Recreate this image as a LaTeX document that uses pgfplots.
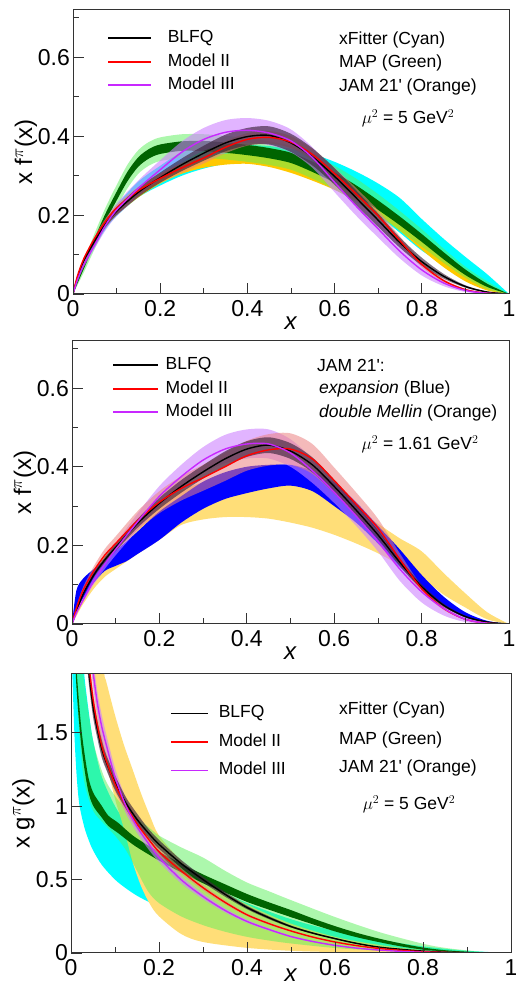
\documentclass[border=0pt]{standalone}
\usepackage{fontspec}
\setmainfont{Liberation Sans}
\usepackage{pgfplots}
\pgfplotsset{compat=1.18}
\usepgfplotslibrary{fillbetween}
\usepackage{pgfplotstable}

\definecolor{cBLFQband}{RGB}{60,35,60}
\definecolor{cIIband}{RGB}{235,130,130}
\definecolor{cIIIband}{RGB}{205,130,255}
\definecolor{cIII}{RGB}{200,40,255}
\definecolor{cCyan}{RGB}{0,255,255}
\definecolor{cDkGreen}{RGB}{0,100,0}
\definecolor{cLtGreen}{RGB}{90,240,90}
\definecolor{cOrange}{RGB}{255,200,0}
\definecolor{cYellow}{RGB}{255,222,120}
\definecolor{cBlue}{RGB}{0,0,255}

% ---------------- Panel 1 (valence, mu^2 = 5 GeV^2) ----------------
\pgfplotstableread{
x y lo hi
0 0 0 0
0.01 0.04 0.038 0.042
0.025 0.085 0.081 0.089
0.05 0.135 0.129 0.141
0.075 0.178 0.17 0.186
0.1 0.21 0.2 0.22
0.15 0.258 0.246 0.27
0.2 0.295 0.282 0.308
0.25 0.328 0.312 0.344
0.3 0.357 0.338 0.376
0.35 0.383 0.362 0.404
0.4 0.399 0.377 0.421
0.45 0.402 0.379 0.425
0.5 0.383 0.36 0.406
0.55 0.347 0.325 0.369
0.6 0.298 0.277 0.319
0.65 0.243 0.224 0.262
0.7 0.187 0.17 0.204
0.75 0.13 0.117 0.143
0.8 0.082 0.072 0.092
0.85 0.045 0.039 0.051
0.9 0.019 0.016 0.022
0.95 0.005 0.004 0.006
1 0 0 0
}\pABLFQ
\pgfplotstableread{
x y lo hi
0 0 0 0
0.01 0.045 0.043 0.047
0.025 0.09 0.087 0.093
0.05 0.142 0.137 0.147
0.075 0.185 0.178 0.192
0.1 0.218 0.21 0.226
0.15 0.262 0.252 0.272
0.2 0.293 0.282 0.304
0.25 0.32 0.307 0.333
0.3 0.345 0.331 0.359
0.35 0.372 0.357 0.387
0.4 0.392 0.376 0.408
0.45 0.397 0.381 0.413
0.5 0.385 0.37 0.4
0.55 0.353 0.339 0.367
0.6 0.305 0.29 0.32
0.65 0.253 0.238 0.268
0.7 0.198 0.184 0.212
0.75 0.135 0.124 0.146
0.8 0.075 0.068 0.082
0.85 0.034 0.03 0.038
0.9 0.011 0.009 0.013
0.95 0.002 0.0015 0.0025
1 0 0 0
}\pAII
\pgfplotstableread{
x y lo hi
0 0 0 0
0.01 0.035 0.032 0.038
0.025 0.075 0.069 0.081
0.05 0.125 0.116 0.134
0.075 0.175 0.162 0.188
0.1 0.213 0.197 0.229
0.15 0.268 0.248 0.288
0.2 0.315 0.291 0.339
0.25 0.36 0.333 0.387
0.3 0.392 0.363 0.421
0.35 0.41 0.379 0.441
0.4 0.415 0.384 0.446
0.45 0.408 0.377 0.439
0.5 0.388 0.359 0.417
0.55 0.345 0.319 0.371
0.6 0.283 0.258 0.308
0.65 0.222 0.198 0.246
0.7 0.165 0.143 0.187
0.75 0.108 0.09 0.126
0.8 0.061 0.047 0.075
0.85 0.028 0.02 0.036
0.9 0.009 0.005 0.013
0.95 0.002 0.001 0.003
1 0 0 0
}\pAIII
\pgfplotstableread{
x lo hi
0 0 0
0.01 0.03 0.04
0.025 0.07 0.085
0.05 0.12 0.14
0.075 0.165 0.185
0.1 0.198 0.225
0.15 0.245 0.285
0.2 0.275 0.325
0.25 0.3 0.36
0.3 0.318 0.372
0.35 0.33 0.378
0.4 0.335 0.378
0.45 0.335 0.375
0.5 0.328 0.368
0.55 0.31 0.355
0.6 0.28 0.335
0.65 0.243 0.31
0.7 0.2 0.28
0.75 0.155 0.243
0.8 0.11 0.19
0.85 0.075 0.14
0.9 0.045 0.094
0.95 0.015 0.05
1 0 0
}\pACyan
\pgfplotstableread{
x lo hi
0 0 0
0.01 0.04 0.046
0.025 0.08 0.09
0.05 0.13 0.145
0.075 0.17 0.188
0.1 0.2 0.222
0.15 0.245 0.27
0.2 0.28 0.305
0.25 0.305 0.33
0.3 0.32 0.347
0.35 0.328 0.356
0.4 0.33 0.357
0.45 0.322 0.35
0.5 0.307 0.337
0.55 0.287 0.315
0.6 0.264 0.292
0.65 0.236 0.264
0.7 0.202 0.232
0.75 0.16 0.192
0.8 0.112 0.142
0.85 0.068 0.095
0.9 0.032 0.052
0.95 0.009 0.018
1 0 0
}\pAOrange
\pgfplotstableread{
x lo hi
0 0 0
0.01 0.022 0.038
0.025 0.055 0.085
0.05 0.115 0.155
0.075 0.17 0.22
0.1 0.22 0.276
0.125 0.268 0.328
0.15 0.305 0.365
0.175 0.326 0.386
0.2 0.337 0.397
0.25 0.345 0.405
0.3 0.345 0.405
0.35 0.341 0.401
0.4 0.335 0.395
0.45 0.327 0.387
0.5 0.315 0.375
0.55 0.292 0.352
0.6 0.265 0.325
0.65 0.232 0.292
0.7 0.197 0.253
0.75 0.16 0.21
0.8 0.12 0.164
0.85 0.079 0.115
0.9 0.041 0.069
0.95 0.012 0.032
1 0 0
}\pALtGreen
\pgfplotstableread{
x lo hi
0 0 0
0.01 0.026 0.034
0.025 0.064 0.076
0.05 0.127 0.143
0.075 0.185 0.205
0.1 0.237 0.259
0.125 0.286 0.31
0.15 0.323 0.347
0.175 0.344 0.368
0.2 0.355 0.379
0.25 0.363 0.387
0.3 0.362 0.388
0.35 0.358 0.384
0.4 0.352 0.378
0.45 0.344 0.37
0.5 0.332 0.358
0.55 0.309 0.335
0.6 0.282 0.308
0.65 0.249 0.275
0.7 0.213 0.237
0.75 0.174 0.196
0.8 0.132 0.152
0.85 0.088 0.106
0.9 0.048 0.062
0.95 0.018 0.026
1 0 0
}\pADkGreen

% ---------------- Panel 2 (valence, mu^2 = 1.61 GeV^2) ----------------
\pgfplotstableread{
x y lo hi
0 0 0 0
0.01 0.032 0.03 0.034
0.025 0.075 0.072 0.078
0.05 0.125 0.119 0.131
0.075 0.163 0.156 0.17
0.1 0.195 0.186 0.204
0.15 0.256 0.245 0.267
0.2 0.307 0.293 0.321
0.25 0.35 0.334 0.366
0.3 0.387 0.37 0.404
0.35 0.42 0.401 0.439
0.4 0.445 0.425 0.465
0.45 0.455 0.435 0.475
0.5 0.44 0.42 0.46
0.55 0.405 0.386 0.424
0.6 0.35 0.333 0.367
0.65 0.29 0.276 0.304
0.7 0.227 0.215 0.239
0.75 0.157 0.148 0.166
0.8 0.095 0.089 0.101
0.85 0.048 0.044 0.052
0.9 0.019 0.017 0.021
0.95 0.005 0.004 0.006
1 0 0 0
}\pBBLFQ
\pgfplotstableread{
x y lo hi
0 0 0 0
0.01 0.04 0.036 0.044
0.025 0.085 0.077 0.093
0.05 0.135 0.123 0.147
0.075 0.175 0.159 0.191
0.1 0.205 0.187 0.223
0.15 0.263 0.239 0.287
0.2 0.31 0.282 0.338
0.25 0.345 0.314 0.376
0.3 0.372 0.339 0.405
0.35 0.4 0.364 0.436
0.4 0.428 0.39 0.466
0.45 0.443 0.403 0.483
0.5 0.445 0.405 0.485
0.55 0.42 0.382 0.458
0.6 0.365 0.332 0.398
0.65 0.305 0.278 0.335
0.7 0.244 0.222 0.268
0.75 0.165 0.15 0.18
0.8 0.09 0.082 0.098
0.85 0.04 0.036 0.044
0.9 0.012 0.011 0.013
0.95 0.002 0.002 0.002
1 0 0 0
}\pBII
\pgfplotstableread{
x y lo hi
0 0 0 0
0.01 0.028 0.026 0.03
0.025 0.06 0.055 0.065
0.05 0.11 0.101 0.119
0.075 0.152 0.14 0.164
0.1 0.19 0.175 0.205
0.15 0.26 0.239 0.281
0.2 0.325 0.299 0.351
0.25 0.375 0.345 0.405
0.3 0.417 0.384 0.45
0.35 0.445 0.409 0.481
0.4 0.458 0.421 0.495
0.45 0.458 0.421 0.495
0.5 0.435 0.4 0.47
0.55 0.39 0.359 0.421
0.6 0.335 0.308 0.362
0.65 0.275 0.25 0.3
0.7 0.21 0.185 0.235
0.75 0.14 0.11 0.16
0.8 0.082 0.055 0.095
0.85 0.04 0.022 0.05
0.9 0.012 0.005 0.018
0.95 0.002 0.001 0.004
1 0 0 0
}\pBIII
\pgfplotstableread{
x lo hi
0 0 0
0.01 0.035 0.085
0.025 0.065 0.115
0.05 0.105 0.14
0.075 0.135 0.162
0.1 0.148 0.187
0.125 0.16 0.21
0.15 0.178 0.235
0.2 0.214 0.286
0.25 0.258 0.325
0.3 0.293 0.362
0.35 0.318 0.386
0.4 0.333 0.4
0.45 0.345 0.405
0.5 0.352 0.405
0.55 0.338 0.39
0.6 0.3 0.36
0.65 0.258 0.31
0.7 0.205 0.25
0.75 0.145 0.19
0.8 0.088 0.125
0.85 0.045 0.07
0.9 0.016 0.03
0.95 0.003 0.008
1 0 0
}\pBBlue
\pgfplotstableread{
x lo hi
0 0 0
0.01 0.02 0.045
0.025 0.05 0.095
0.05 0.09 0.14
0.075 0.12 0.175
0.1 0.14 0.205
0.15 0.178 0.265
0.2 0.214 0.31
0.25 0.252 0.34
0.3 0.266 0.36
0.35 0.272 0.363
0.4 0.272 0.362
0.45 0.268 0.36
0.5 0.258 0.355
0.55 0.245 0.34
0.6 0.227 0.32
0.65 0.205 0.29
0.7 0.18 0.255
0.75 0.15 0.218
0.8 0.118 0.185
0.85 0.075 0.13
0.9 0.042 0.078
0.95 0.012 0.03
1 0 0
}\pBYellow

% ---------------- Panel 3 (gluon, mu^2 = 5 GeV^2) ----------------
\pgfplotstableread{
x y lo hi
0.03 2.35 2.26 2.44
0.035 2.12 2.04 2.2
0.04 1.93 1.85 2.01
0.05 1.68 1.61 1.75
0.06 1.52 1.46 1.58
0.07 1.39 1.33 1.45
0.08 1.3 1.25 1.35
0.1 1.16 1.11 1.21
0.125 1.02 0.98 1.06
0.15 0.91 0.87 0.95
0.175 0.82 0.79 0.85
0.2 0.74 0.71 0.77
0.25 0.61 0.585 0.635
0.3 0.5 0.48 0.52
0.35 0.4 0.384 0.416
0.4 0.31 0.298 0.322
0.45 0.24 0.23 0.25
0.5 0.18 0.173 0.187
0.55 0.135 0.13 0.14
0.6 0.098 0.094 0.102
0.65 0.065 0.062 0.068
0.7 0.04 0.038 0.042
0.75 0.025 0.024 0.026
0.8 0.013 0.012 0.014
0.85 0.006 0.006 0.006
0.9 0.002 0.002 0.002
0.95 0.0005 0.0005 0.0005
1 0 0 0
}\pCBLFQ
\pgfplotstableread{
x y lo hi
0.032 2.35 2.26 2.44
0.037 2.12 2.04 2.2
0.042 1.93 1.85 2.01
0.05 1.73 1.66 1.8
0.06 1.55 1.49 1.61
0.07 1.41 1.35 1.47
0.08 1.31 1.26 1.36
0.1 1.15 1.1 1.2
0.125 1.0 0.96 1.04
0.15 0.88 0.845 0.915
0.175 0.78 0.75 0.81
0.2 0.69 0.66 0.72
0.25 0.56 0.54 0.58
0.3 0.445 0.427 0.463
0.35 0.345 0.331 0.359
0.4 0.26 0.25 0.27
0.45 0.2 0.192 0.208
0.5 0.15 0.144 0.156
0.55 0.108 0.104 0.112
0.6 0.075 0.072 0.078
0.65 0.05 0.048 0.052
0.7 0.031 0.03 0.032
0.75 0.018 0.017 0.019
0.8 0.009 0.009 0.009
0.85 0.004 0.004 0.004
0.9 0.0015 0.0015 0.0015
0.95 0.0003 0.0003 0.0003
1 0 0 0
}\pCII
\pgfplotstableread{
x y lo hi
0.04 2.35 2.23 2.47
0.045 2.1 2.0 2.2
0.05 1.92 1.82 2.02
0.06 1.7 1.62 1.78
0.07 1.54 1.46 1.62
0.08 1.42 1.35 1.49
0.1 1.2 1.14 1.26
0.125 1.0 0.95 1.05
0.15 0.86 0.82 0.9
0.175 0.75 0.71 0.79
0.2 0.65 0.62 0.68
0.25 0.5 0.475 0.525
0.3 0.385 0.366 0.404
0.35 0.29 0.276 0.304
0.4 0.215 0.204 0.226
0.45 0.16 0.152 0.168
0.5 0.112 0.106 0.118
0.55 0.078 0.074 0.082
0.6 0.052 0.049 0.055
0.65 0.033 0.031 0.035
0.7 0.02 0.019 0.021
0.75 0.011 0.01 0.012
0.8 0.005 0.005 0.005
0.85 0.002 0.002 0.002
0.9 0.0007 0.0007 0.0007
1 0 0 0
}\pCIII
\pgfplotstableread{
x lo hi
0.003 1.9 2.4
0.008 1.47 2.4
0.013 1.2 2.4
0.019 1.01 2.3
0.03 0.86 1.9
0.04 0.77 1.65
0.05 0.7 1.45
0.07 0.6 1.2
0.1 0.5 1.0
0.125 0.44 0.89
0.15 0.39 0.8
0.175 0.35 0.72
0.2 0.31 0.66
0.25 0.25 0.56
0.3 0.2 0.48
0.4 0.13 0.34
0.5 0.085 0.23
0.6 0.05 0.15
0.7 0.025 0.09
0.8 0.01 0.045
0.9 0.003 0.015
1 0 0
}\pCCyan
\pgfplotstableread{
x lo hi
0.045 1.95 2.4
0.06 1.6 2.4
0.075 1.38 1.92
0.08 1.3 1.85
0.1 1.05 1.62
0.12 0.85 1.42
0.14 0.62 1.25
0.16 0.45 1.08
0.18 0.33 0.93
0.2 0.25 0.8
0.25 0.13 0.63
0.3 0.075 0.5
0.4 0.035 0.33
0.5 0.015 0.2
0.6 0.006 0.11
0.7 0.002 0.055
0.8 0.0005 0.02
0.9 0 0.005
1 0 0
}\pCYellow
\pgfplotstableread{
x lo hi
0.008 2.15 2.4
0.012 1.85 2.4
0.02 1.45 2.1
0.03 1.17 1.85
0.05 0.97 1.45
0.075 0.88 1.2
0.1 0.8 1.07
0.125 0.7 0.98
0.15 0.56 0.92
0.175 0.42 0.86
0.2 0.34 0.8
0.25 0.25 0.72
0.3 0.19 0.65
0.35 0.145 0.56
0.4 0.11 0.48
0.45 0.085 0.42
0.5 0.065 0.36
0.6 0.034 0.245
0.7 0.016 0.143
0.8 0.006 0.063
0.85 0.003 0.035
0.9 0.001 0.018
0.95 0.0003 0.005
1 0 0
}\pCLtGreen
\pgfplotstableread{
x lo hi
0.008 2.22 2.38
0.012 1.83 1.97
0.0235 1.41 1.53
0.038 1.12 1.22
0.05 1.005 1.095
0.069 0.926 1.006
0.085 0.865 0.935
0.107 0.817 0.887
0.145 0.73 0.79
0.2 0.63 0.69
0.25 0.55 0.61
0.3 0.475 0.535
0.35 0.412 0.468
0.4 0.348 0.402
0.45 0.295 0.345
0.5 0.244 0.292
0.55 0.195 0.235
0.6 0.147 0.183
0.65 0.107 0.137
0.7 0.074 0.098
0.75 0.045 0.065
0.8 0.023 0.037
0.85 0.011 0.019
0.9 0.005 0.009
0.95 0.001 0.003
1 0 0
}\pCDkGreen

\newcommand\band[5]{%
  \addplot[draw=none, forget plot, smooth, name path=#1L] table[x=x,y=#3]{#2};
  \addplot[draw=none, forget plot, smooth, name path=#1H] table[x=x,y=#4]{#2};
  \addplot[forget plot, draw=none, #5] fill between[of=#1L and #1H];}

\pgfplotsset{
  pan/.style={
    scale only axis, anchor=south west,
    xmin=0, xmax=1, ymin=0,
    axis on top,
    xtick={0,0.2,0.4,0.6,0.8,1}, xticklabels={0,0.2,0.4,0.6,0.8,1},
    minor xtick={0.1,0.3,0.5,0.7,0.9},
    xtick pos=left, ytick pos=left, tick align=inside,
    major tick length=11pt, minor tick length=6pt,
    tick style={black!80, line width=0.8pt},
    axis line style={black!80, line width=1pt},
    tick label style={font=\fontsize{23}{23}\selectfont},
    xticklabel style={inner sep=0pt, yshift=-6pt},
    yticklabel style={inner sep=0pt, xshift=-3pt},
    label style={font=\fontsize{24}{24}\selectfont, inner sep=0pt},
    xlabel={\textit{x}},
    xlabel style={at={(axis description cs:0.5,0)}, anchor=center, yshift=-29pt},
    ylabel style={at={(axis description cs:-0.108,0.5)}, anchor=center},
    legend cell align=left,
    legend style={draw=none, fill=none, anchor=north west, inner sep=0pt,
      font=\fontsize{17.5}{17.5}\selectfont, row sep=6.5pt,
      nodes={inner sep=0pt, anchor=west, text height=13pt, text depth=4pt}},
  },
  ln/.style={line width=1.4pt, smooth},
}

\begin{document}
\begin{tikzpicture}

% ============ Panel 1 ============
\begin{axis}[pan, at={(73pt,694pt)}, width=436pt, height=284pt, ymax=0.72,
  ytick={0,0.2,0.4,0.6}, yticklabels={0,0.2,0.4,0.6}, minor ytick={0.1,0.3,0.5,0.7},
  ylabel={x f$^{\pi}$(x)},
  legend style={at={(0.078,0.931)}},
  legend image code/.code={\draw[#1, line width=1.7pt] (0pt,0pt) -- (43pt,0pt); \path (59pt,0pt);}]
\band{ac}{\pACyan}{lo}{hi}{fill=cCyan}
\band{ao}{\pAOrange}{lo}{hi}{fill=cOrange}
\band{alg}{\pALtGreen}{lo}{hi}{fill=cLtGreen, fill opacity=0.5}
\band{adg}{\pADkGreen}{lo}{hi}{fill=cDkGreen}
\band{aiii}{\pAIII}{lo}{hi}{fill=cIIIband, fill opacity=0.6}
\band{aii}{\pAII}{lo}{hi}{fill=cIIband, fill opacity=0.55}
\band{ai}{\pABLFQ}{lo}{hi}{fill=cBLFQband, fill opacity=0.65}
\addplot[ln, black] table[x=x,y=y]{\pABLFQ}; \addlegendentry{BLFQ}
\addplot[ln, red] table[x=x,y=y]{\pAII}; \addlegendentry{Model II}
\addplot[ln, cIII] table[x=x,y=y]{\pAIII}; \addlegendentry{Model III}
\end{axis}
\begin{scope}[every node/.style={font=\fontsize{17.5}{17.5}\selectfont, inner sep=0pt}]
\node[anchor=base west] at (339pt,943.7pt) {xFitter (Cyan)};
\node[anchor=base west] at (339pt,920.7pt) {MAP (Green)};
\node[anchor=base west] at (339pt,896.7pt) {JAM 21\textquotesingle{} (Orange)};
\node[anchor=base] at (408pt,864.7pt) {$\mu^{2}$ = 5 GeV$^{2}$};
\end{scope}

% ============ Panel 2 ============
\begin{axis}[pan, at={(72pt,364pt)}, width=437pt, height=283pt, ymax=0.72,
  ytick={0,0.2,0.4,0.6}, yticklabels={0,0.2,0.4,0.6}, minor ytick={0.1,0.3,0.5,0.7},
  ylabel={x f$^{\pi}$(x)},
  legend style={at={(0.0915,0.945)}},
  legend image code/.code={\draw[#1, line width=1.7pt] (0pt,0pt) -- (45pt,0pt); \path (52pt,0pt);}]
\band{by}{\pBYellow}{lo}{hi}{fill=cYellow}
\band{bb}{\pBBlue}{lo}{hi}{fill=cBlue}
\band{biii}{\pBIII}{lo}{hi}{fill=cIIIband, fill opacity=0.6}
\band{bii}{\pBII}{lo}{hi}{fill=cIIband, fill opacity=0.55}
\band{bi}{\pBBLFQ}{lo}{hi}{fill=cBLFQband, fill opacity=0.65}
\addplot[ln, black] table[x=x,y=y]{\pBBLFQ}; \addlegendentry{BLFQ}
\addplot[ln, red] table[x=x,y=y]{\pBII}; \addlegendentry{Model II}
\addplot[ln, cIII] table[x=x,y=y]{\pBIII}; \addlegendentry{Model III}
\end{axis}
\begin{scope}[every node/.style={font=\fontsize{17.5}{17.5}\selectfont, inner sep=0pt}]
\node[anchor=base west] at (317pt,616.7pt) {JAM 21\textquotesingle:};
\node[anchor=base west] at (319pt,594.4pt) {\textit{expansion} (Blue)};
\node[anchor=base west] at (319pt,570.7pt) {\textit{double Mellin} (Orange)};
\node[anchor=base] at (420pt,538.4pt) {$\mu^{2}$ = 1.61 GeV$^{2}$};
\end{scope}

% ============ Panel 3 ============
\begin{axis}[pan, at={(71pt,35pt)}, width=440pt, height=279pt, ymax=1.9,
  ytick={0,0.5,1,1.5}, yticklabels={0,0.5,1,1.5},
  ylabel={x g$^{\pi}$(x)},
  xlabel style={yshift=7pt},
  legend style={at={(0.225,0.89)}, row sep=11.5pt},
  legend image code/.code={\draw[#1, line width=1.7pt] (0pt,0pt) -- (37pt,0pt); \path (47pt,0pt);}]
\band{cc}{\pCCyan}{lo}{hi}{fill=cCyan}
\band{cy}{\pCYellow}{lo}{hi}{fill=cYellow}
\band{clg}{\pCLtGreen}{lo}{hi}{fill=cLtGreen, fill opacity=0.5}
\band{cdg}{\pCDkGreen}{lo}{hi}{fill=cDkGreen}
\band{ciii}{\pCIII}{lo}{hi}{fill=cIIIband, fill opacity=0.6}
\band{cii}{\pCII}{lo}{hi}{fill=cIIband, fill opacity=0.55}
\band{ci}{\pCBLFQ}{lo}{hi}{fill=cBLFQband, fill opacity=0.65}
\addplot[ln, black] table[x=x,y=y]{\pCBLFQ}; \addlegendentry{BLFQ}
\addplot[ln, red] table[x=x,y=y]{\pCII}; \addlegendentry{Model II}
\addplot[ln, cIII] table[x=x,y=y]{\pCIII}; \addlegendentry{Model III}
\end{axis}
\begin{scope}[every node/.style={font=\fontsize{17.5}{17.5}\selectfont, inner sep=0pt}]
\node[anchor=base west] at (339pt,273.4pt) {xFitter (Cyan)};
\node[anchor=base west] at (339pt,243.4pt) {MAP (Green)};
\node[anchor=base west] at (339pt,215pt) {JAM 21\textquotesingle{} (Orange)};
\node[anchor=base] at (409pt,178.4pt) {$\mu^{2}$ = 5 GeV$^{2}$};
\end{scope}
\pgfresetboundingbox
\path[use as bounding box] (0pt,0pt) rectangle (516pt,988pt);
\end{tikzpicture}
\end{document}
